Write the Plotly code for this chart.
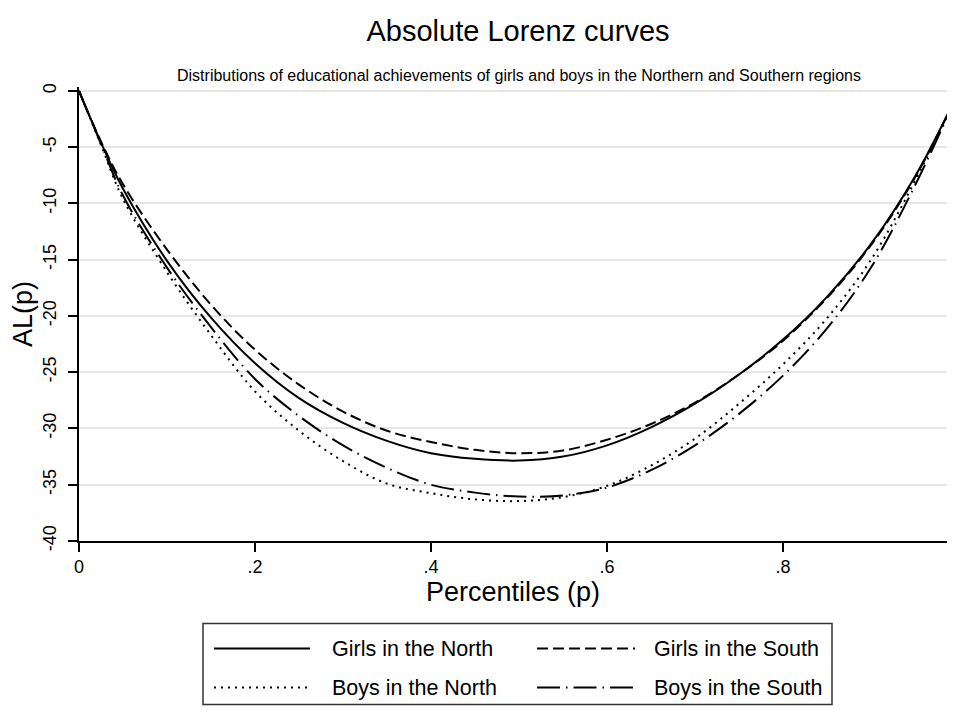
import plotly.graph_objects as go

# ---------------- data ----------------
p = [0, 0.025, 0.05, 0.1, 0.15, 0.2, 0.25, 0.3, 0.35, 0.4, 0.45, 0.5,
     0.55, 0.6, 0.65, 0.7, 0.75, 0.8, 0.85, 0.9, 0.95, 1.0]
girls_north = [0, -4.6, -8.7, -15.1, -20.15, -24.2, -27.3, -29.5, -31.1, -32.2, -32.7, -32.85,
               -32.5, -31.5, -29.9, -27.8, -25.2, -22.1, -18.3, -13.6, -7.6, 0]
girls_south = [0, -4.5, -8.3, -14.1, -19.0, -23.0, -26.1, -28.5, -30.2, -31.2, -31.9, -32.2,
               -31.95, -31.0, -29.6, -27.7, -25.2, -22.2, -18.4, -13.7, -7.7, 0]
boys_north = [0, -4.8, -9.6, -16.1, -21.7, -26.7, -30.2, -32.9, -34.9, -35.75, -36.3, -36.45,
              -36.1, -35.1, -33.3, -30.9, -27.8, -24.3, -20.2, -15.0, -8.0, 0]
boys_south = [0, -4.7, -9.3, -15.7, -21.0, -25.6, -28.9, -31.5, -33.5, -35.0, -35.7, -36.05,
              -35.95, -35.25, -33.7, -31.5, -28.7, -25.3, -21.1, -15.7, -8.4, 0]

series_names = ["Girls in the North", "Girls in the South", "Boys in the North", "Boys in the South"]
series_values = [girls_north, girls_south, boys_north, boys_south]

x_tickvals = [0, 0.2, 0.4, 0.6, 0.8, 1]
x_ticktext = ["0", ".2", ".4", ".6", ".8", "1"]
y_tickvals = [0, -5, -10, -15, -20, -25, -30, -35, -40]
y_ticktext = ["0", "-5", "-10", "-15", "-20", "-25", "-30", "-35", "-40"]

title_text = "Absolute Lorenz curves"
subtitle_text = "Distributions of educational achievements of girls and boys in the Northern and Southern regions"
x_title = "Percentiles (p)"
y_title = "AL(p)"

# ---------------- styling / geometry ----------------
FONT = "Liberation Sans, Arial, Helvetica, sans-serif"
OFF = 8                      # page body margin offset
W, H = 939, 701              # figure size (fits the 955x717 window with body margins)
PLOT_L, PLOT_T, PLOT_B = 79, 87.1, 540.6   # plot area in window pixels
L = PLOT_L - OFF
T = PLOT_T - OFF
B = H - (PLOT_B - OFF)
R = 0
PW = W - L - R
PH = H - T - B
X_SCALE = 880.0              # pixels per unit of p

def px_x(px):
    return (px - PLOT_L) / PW

def px_y(py):
    return (PLOT_B - py) / PH

dashes = ["solid", "11px,5px", "2px,5px", "23px,6px,1.5px,6px"]

fig = go.Figure()
for name, vals, d in zip(series_names, series_values, dashes):
    fig.add_trace(go.Scatter(
        x=p, y=vals, mode="lines", name=name, showlegend=False,
        line=dict(color="black", width=2, dash=d, shape="spline", smoothing=1.0),
    ))

shapes = []
annotations = []

# manual legend box
shapes.append(dict(type="rect", xref="paper", yref="paper",
                   x0=px_x(203), x1=px_x(832), y0=px_y(704), y1=px_y(623),
                   line=dict(color="#333333", width=1.5), fillcolor="white"))
legend_pos = [(214, 310, 330, 648), (537, 635, 652, 648),
              (214, 310, 330, 687), (537, 635, 652, 687)]
for name, d, (lx0, lx1, tx, ty) in zip(series_names, dashes, legend_pos):
    shapes.append(dict(type="line", xref="paper", yref="paper",
                       x0=px_x(lx0), x1=px_x(lx1), y0=px_y(ty), y1=px_y(ty),
                       line=dict(color="black", width=2, dash=d)))
    annotations.append(dict(xref="paper", yref="paper", x=px_x(tx), y=px_y(ty),
                            text=name, showarrow=False, xanchor="left", yanchor="middle",
                            font=dict(family=FONT, size=21.5, color="black")))

# subtitle
annotations.append(dict(xref="paper", yref="paper", x=px_x(519), y=px_y(76),
                        text=subtitle_text, showarrow=False, xanchor="center", yanchor="middle",
                        font=dict(family=FONT, size=16, color="black")))

fig.update_layout(
    width=W, height=H,
    margin=dict(l=L, r=R, t=T, b=B, pad=0),
    paper_bgcolor="white", plot_bgcolor="white",
    font=dict(family=FONT, color="black"),
    title=dict(text=title_text, x=px_x(518), xref="paper", xanchor="center",
               y=1 - (31 - OFF) / H, yref="container", yanchor="middle",
               font=dict(family=FONT, size=29, color="black")),
    shapes=shapes, annotations=annotations,
    showlegend=False,
    xaxis=dict(range=[0, PW / X_SCALE], showline=True, linecolor="black", linewidth=1.5,
               ticks="outside", ticklen=9, tickwidth=1.5, tickcolor="black",
               tickvals=x_tickvals, ticktext=x_ticktext,
               tickfont=dict(family=FONT, size=18, color="black"),
               showgrid=False, zeroline=False,
               title=dict(text=x_title, font=dict(family=FONT, size=27, color="black"), standoff=2)),
    yaxis=dict(range=[-40, 0.35], showline=True, linecolor="black", linewidth=1.5,
               ticks="outside", ticklen=9, tickwidth=1.5, tickcolor="black",
               tickvals=y_tickvals, ticktext=y_ticktext, tickangle=-90,
               ticklabelstandoff=5,
               tickfont=dict(family=FONT, size=18, color="black"),
               showgrid=True, gridcolor="#e6e6e6", gridwidth=1.5, zeroline=False,
               title=dict(text=y_title, font=dict(family=FONT, size=27, color="black"), standoff=0)),
)

fig.write_html("out.html")
